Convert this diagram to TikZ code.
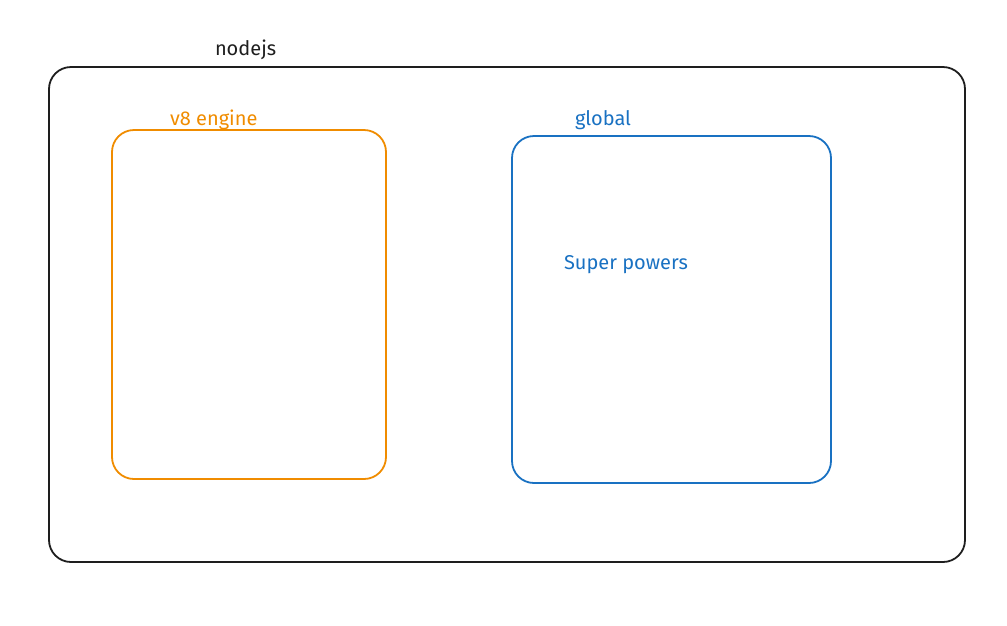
\documentclass[tikz,border=0pt]{standalone}
\usepackage{fontspec}
\setmainfont{Fira Sans}
\usetikzlibrary{positioning}
\definecolor{enginecol}{HTML}{F08C00}
\definecolor{globalcol}{HTML}{1971C2}
\definecolor{inkcol}{HTML}{1E1E1E}

\begin{document}
\begin{tikzpicture}
[x=1pt, y=-1pt,
    every node/.style={inner sep=0pt, outer sep=0pt},
    frame/.style={rectangle, rounded corners=22pt, line width=1.8pt},
    caption/.style={font=\fontsize{20}{24}\selectfont, anchor=base west},
    ]
    \useasboundingbox (0,0) rectangle (1007,625);

    % outer box
    \node[frame, draw=inkcol, minimum width=916pt, minimum height=495pt]
        (nodejs) at (507,314.5) {};
    \node[caption, text=inkcol] (nodejslbl) at (215,55) {nodejs};

    % v8 engine
    \node[frame, draw=enginecol, minimum width=274pt, minimum height=349pt]
        (engine) at (249,304.5) {};
    \node[caption, text=enginecol] (enginelbl) at (170,125) {v8 engine};

    % global
    \node[frame, draw=globalcol, minimum width=319pt, minimum height=347pt]
        (global) at (671.5,309.5) {};
    \node[caption, text=globalcol] (globallbl) at (575,125) {global};
    \node[caption, text=globalcol] (powers) at (564,269) {Super powers};

\end{tikzpicture}
\end{document}
